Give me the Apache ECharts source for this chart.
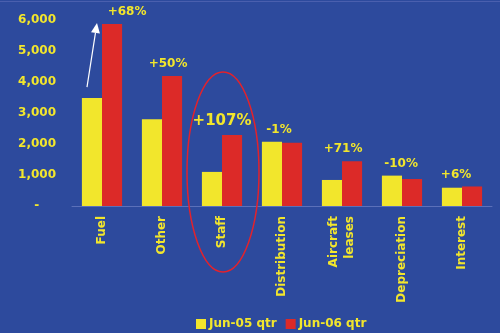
<!DOCTYPE html>
<html><head><meta charset="utf-8">
<script src="https://cdn.jsdelivr.net/npm/echarts@6/dist/echarts.min.js"></script>
<style>html,body{margin:0;padding:0;background:#2d4a9d;}#c{width:500px;height:333px;}</style>
</head><body><div id="c"></div>
<script>
var categories = ['Fuel', 'Other', 'Staff', 'Distribution', 'Aircraft\nleases', 'Depreciation', 'Interest'];
var jun05 = [3480, 2800, 1100, 2070, 840, 980, 590];
var jun06 = [5870, 4190, 2290, 2040, 1440, 870, 630];
var changes = ['+68%', '+50%', '+107%', '-1%', '+71%', '-10%', '+6%'];
var yTicks = [0, 1000, 2000, 3000, 4000, 5000, 6000];
var labelDx = [15, -4, -10, -13, -9, -11, -16];

var YEL = '#f2e62c', RED = '#dc2a28', FONT = 'DejaVu Sans';
var chart = echarts.init(document.getElementById('c'));

var redData = jun06.map(function (v, i) {
  var top = Math.max(v, jun05[i]);
  return {
    value: v,
    label: {
      show: true,
      position: 'top',
      formatter: changes[i],
      offset: [labelDx[i], -(top - v) * 31 / 1000],
      color: YEL,
      fontFamily: FONT,
      fontWeight: 'bold',
      fontSize: i === 2 ? 15 : 12,
      distance: 6
    }
  };
});

chart.setOption({
  backgroundColor: '#2d4a9d',
  animation: false,
  grid: { left: 72, right: 8, top: 20, bottom: 127 },
  legend: {
    bottom: 3, left: 196, padding: 0,
    itemWidth: 10, itemHeight: 10, itemGap: 9,
    icon: 'rect',
    textStyle: { color: YEL, fontFamily: FONT, fontWeight: 'bold', fontSize: 12, padding: [0, 0, 0, -2] },
    data: ['Jun-05 qtr', 'Jun-06 qtr']
  },
  xAxis: {
    type: 'category', data: categories,
    axisLine: { lineStyle: { color: '#5b70b9', width: 1 } },
    axisTick: { show: false },
    axisLabel: { rotate: 90, margin: 10, color: YEL, fontFamily: FONT, fontWeight: 'bold', fontSize: 12, lineHeight: 16 }
  },
  yAxis: {
    type: 'value', min: 0, max: 6000, interval: 1000,
    splitLine: { show: false },
    axisLine: { show: false },
    axisTick: { show: false },
    axisLabel: {
      margin: 16, color: YEL, fontFamily: FONT, fontWeight: 'bold', fontSize: 12,
      formatter: function (v) { return v === 0 ? '-    ' : v.toLocaleString('en-US'); }
    }
  },
  series: [
    { name: 'Jun-05 qtr', type: 'bar', data: jun05, itemStyle: { color: YEL }, barGap: '0%', barCategoryGap: '33%' },
    { name: 'Jun-06 qtr', type: 'bar', data: redData, itemStyle: { color: RED }, barGap: '0%', barCategoryGap: '33%' }
  ]
});

// annotations anchored to data positions
var staff = chart.convertToPixel({ xAxisIndex: 0, yAxisIndex: 0 }, ['Staff', 0]);
var fuelY = chart.convertToPixel({ xAxisIndex: 0, yAxisIndex: 0 }, ['Fuel', jun05[0]]);
var fuelR = chart.convertToPixel({ xAxisIndex: 0, yAxisIndex: 0 }, ['Fuel', jun06[0]]);
var x1 = fuelY[0] - 15, y1 = fuelY[1] - 11, x2 = fuelR[0] - 5, y2 = fuelR[1] - 1;
var ang = Math.atan2(y2 - y1, x2 - x1);
var hl = 10, hw = 4.5;
var bx = x2 - hl * Math.cos(ang), by = y2 - hl * Math.sin(ang);
var px = -Math.sin(ang), py = Math.cos(ang);
chart.setOption({
  graphic: [
    { type: 'ellipse', shape: { cx: staff[0] + 1, cy: staff[1] - 34, rx: 36, ry: 100 },
      style: { fill: 'none', stroke: '#e3222c', lineWidth: 1.5 }, z: 10 },
    { type: 'line', shape: { x1: x1, y1: y1, x2: bx, y2: by }, style: { stroke: '#ffffff', lineWidth: 1.2 }, z: 10 },
    { type: 'polygon', shape: { points: [[x2, y2], [bx + px * hw, by + py * hw], [bx - px * hw, by - py * hw]] },
      style: { fill: '#ffffff' }, z: 10 },
    { type: 'rect', shape: { x: 0, y: 1, width: 500, height: 1 }, style: { fill: '#4a5fae' }, z: 0 }
  ]
});
</script></body></html>
